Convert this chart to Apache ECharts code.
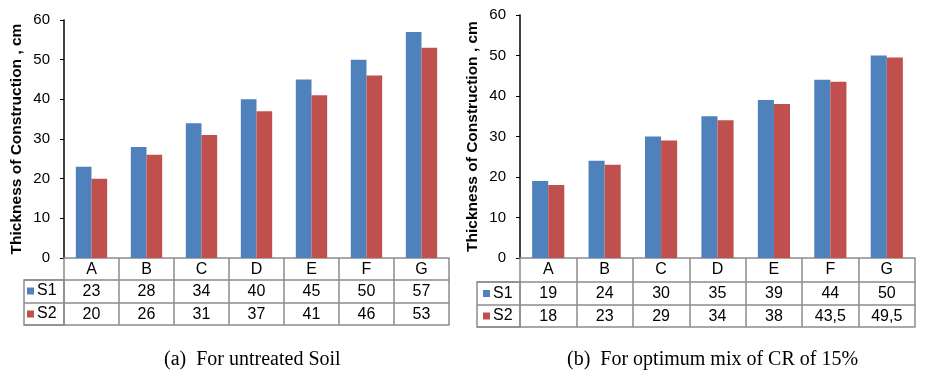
<!DOCTYPE html>
<html>
<head>
<meta charset="utf-8">
<title>Thickness of Construction</title>
<script src="https://cdn.jsdelivr.net/npm/echarts@6/dist/echarts.min.js"></script>
<style>
  html, body { margin: 0; padding: 0; background: #fff; }
  #main { width: 931px; height: 377px; }
</style>
</head>
<body>
<div id="main"></div>
<script>
var categories = ['A', 'B', 'C', 'D', 'E', 'F', 'G'];
var seriesNames = ['S1', 'S2'];
var yTicks = [0, 10, 20, 30, 40, 50, 60];
// (a) untreated soil
var untreatedS1 = [23, 28, 34, 40, 45, 50, 57];
var untreatedS2 = [20, 26, 31, 37, 41, 46, 53];
// (b) optimum mix CR 15%
var mixS1 = [19, 24, 30, 35, 39, 44, 50];
var mixS2 = [18, 23, 29, 34, 38, 43.5, 49.5];
var captions = ['(a)  For untreated Soil', '(b)  For optimum mix of CR of 15%'];

(function() {
  'use strict';
  var echarts = window.echarts;
  var myChart = echarts.init(document.getElementById('main'));

  var BLUE = '#4F81BD';
  var RED = '#C0504D';
  var GRID_LINE = '#8c8c8c';
  var FONT = 'Liberation Sans';
  var FS = 15;   // 刻度字号
  var TFS = 16;  // 表格字号

  // 表格里的数字用逗号做小数点
  function cellText(v) {
    return String(v).replace('.', ',');
  }

  // 两个图的位置: 柱状区 + 左边的图例格子
  var panels = [
    { left: 64, right: 482, top: 20, rows: [22, 45, 67], labLeft: 24, legLeft: 27, legTop: 283, gap: 7, s1: untreatedS1, s2: untreatedS2 },
    { left: 520, right: 16, top: 15, rows: [24, 47, 69], labLeft: 477, legLeft: 483, legTop: 285.5, gap: 6.5, s1: mixS1, s2: mixS2 }
  ];

  var grid = [], xAxis = [], yAxis = [], series = [], legend = [];

  panels.forEach(function(p) {
    var gi = grid.length;
    grid.push({ left: p.left, right: p.right, top: p.top, bottom: 119 });

    // 类别行 (表格第一行), 竖线用刻度画
    xAxis.push({
      type: 'category', gridIndex: gi, data: categories,
      axisLine: { lineStyle: { color: GRID_LINE, width: 1.5 } },
      axisTick: { show: true, length: p.rows[2], interval: 0, lineStyle: { color: GRID_LINE, width: 1.5 } },
      axisLabel: { color: '#000', fontFamily: FONT, fontSize: TFS, margin: 4, interval: 0 }
    });
    // S1 / S2 数值行
    [p.s1, p.s2].forEach(function(arr, r) {
      xAxis.push({
        type: 'category', gridIndex: gi, position: 'bottom', offset: p.rows[r],
        data: arr.map(cellText),
        axisLine: { lineStyle: { color: GRID_LINE, width: 1.5 } },
        axisTick: { show: false },
        axisLabel: { color: '#000', fontFamily: FONT, fontSize: TFS, margin: 4, interval: 0 }
      });
    });
    // 表格底线
    xAxis.push({
      type: 'category', gridIndex: gi, position: 'bottom', offset: p.rows[2],
      data: categories,
      axisLine: { lineStyle: { color: GRID_LINE, width: 1.5 } },
      axisTick: { show: false }, axisLabel: { show: false }
    });

    yAxis.push({
      type: 'value', gridIndex: gi, min: yTicks[0], max: yTicks[yTicks.length - 1], interval: 10,
      name: 'Thickness of Construction , cm',
      nameLocation: 'middle', nameGap: 39,
      nameTextStyle: { color: '#000', fontFamily: FONT, fontSize: 15.5, fontWeight: 'bold' },
      axisLine: { show: true, lineStyle: { color: '#000', width: 1.5 } },
      axisTick: { show: true, length: 4, lineStyle: { color: '#000' } },
      axisLabel: { color: '#000', fontFamily: FONT, fontSize: FS, margin: 14 },
      splitLine: { show: false }
    });

    series.push({
      name: seriesNames[0], type: 'bar', xAxisIndex: xAxis.length - 4, yAxisIndex: yAxis.length - 1,
      data: p.s1, itemStyle: { color: BLUE }, barGap: '0%', barCategoryGap: '43%'
    });
    series.push({
      name: seriesNames[1], type: 'bar', xAxisIndex: xAxis.length - 4, yAxisIndex: yAxis.length - 1,
      data: p.s2, itemStyle: { color: RED }, barGap: '0%', barCategoryGap: '43%'
    });

    // 左边 S1/S2 格子
    var li = grid.length;
    grid.push({
      left: p.labLeft, width: p.left - p.labLeft, top: 258 + p.rows[0],
      height: p.rows[2] - p.rows[0],
      show: true, borderColor: GRID_LINE, borderWidth: 1.5, backgroundColor: 'transparent'
    });
    xAxis.push({ type: 'value', gridIndex: li, show: false, min: 0, max: 1 });
    yAxis.push({
      type: 'category', gridIndex: li, data: seriesNames.slice().reverse(),
      axisLine: { show: false }, axisTick: { show: false }, axisLabel: { show: false },
      splitLine: { show: true, interval: 0, lineStyle: { color: GRID_LINE, width: 1.5 } }
    });

    legend.push({
      data: seriesNames, orient: 'vertical', left: p.legLeft, top: p.legTop,
      padding: 0, itemGap: p.gap, itemWidth: 7, itemHeight: 7, icon: 'rect',
      selectedMode: false,
      textStyle: { color: '#000', fontFamily: FONT, fontSize: TFS, padding: [0, 0, 0, -2] }
    });
  });

  var capStyle = { fontFamily: 'Liberation Serif', fontWeight: 'normal', fontSize: 20, color: '#000' };

  var option = {
    animation: false,
    backgroundColor: '#fff',
    title: [
      { text: captions[0], left: 159, top: 345, textStyle: capStyle },
      { text: captions[1], left: 562, top: 345, textStyle: capStyle }
    ],
    legend: legend,
    grid: grid,
    xAxis: xAxis,
    yAxis: yAxis,
    series: series
  };

  myChart.setOption(option);
}());
</script>
</body>
</html>
